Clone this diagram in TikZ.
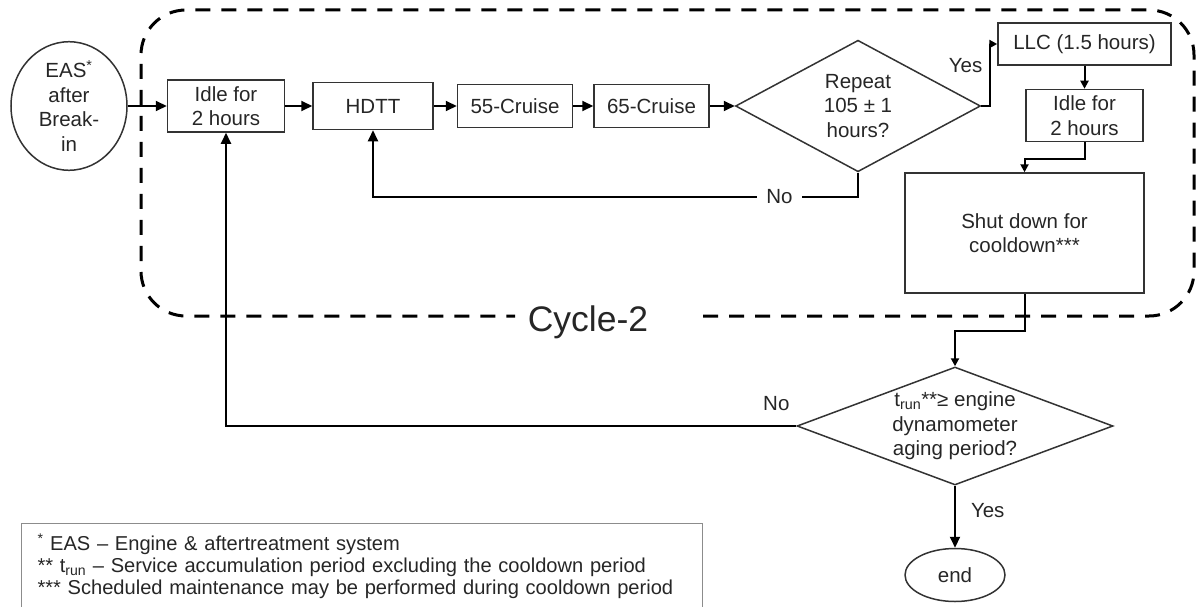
\documentclass[tikz,border=0pt]{standalone}
\usepackage{fontspec}
\setmainfont{Liberation Sans}
\usetikzlibrary{positioning, shapes.geometric, arrows.meta}

\begin{document}
\begin{tikzpicture}[x=1pt, y=-1pt, >={Triangle[length=11pt, width=10pt]},
    font=\fontsize{20.5}{24.5}\selectfont, text=black!85]

\tikzstyle{box} = [
    rectangle,
    draw=black!80,
    line width=1.5pt,
    inner sep=0pt,
    align=center
];
\tikzstyle{decision} = [diamond, draw=black!80, line width=1.5pt, inner sep=0pt, align=center];
\tikzstyle{terminal} = [ellipse, draw=black!80, line width=1.5pt, inner sep=0pt, align=center];
\tikzstyle{line} = [draw=black, line width=2pt];
\tikzstyle{arr} = [line, ->];
\tikzstyle{arrs} = [line, -{Triangle[length=8pt, width=8pt]}];
\tikzstyle{nolbl} = [fill=white, inner xsep=9pt, inner ysep=2pt];
\tikzstyle{lbl} = [inner sep=0pt];
\tikzstyle{boundary} = [draw=black, line width=3pt, dash pattern=on 15pt off 11pt, rounded corners=45pt];
\tikzstyle{notes} = [draw=black!45, line width=1pt, text width=649pt, inner xsep=16pt, inner ysep=10pt,
    align=left, font=\fontsize{20.1}{22}\selectfont];

\useasboundingbox (0,0) rectangle (1198,607);

% main row
\node[terminal, minimum width=116pt, minimum height=128pt] (eas) at (69,106) {EAS\textsuperscript{*}\\after\\Break-\\in};
\node[box, minimum width=117pt, minimum height=52pt, right=39pt of eas] (idle1) {Idle for\\2 hours};
\node[box, minimum width=120pt, minimum height=47pt, right=27pt of idle1] (hdtt) {HDTT};
\node[box, minimum width=115pt, minimum height=43pt, right=23pt of hdtt] (cr55) {55-Cruise};
\node[box, minimum width=115pt, minimum height=43pt, right=20pt of cr55] (cr65) {65-Cruise};
\node[decision, minimum width=245pt, minimum height=127pt, right=25pt of cr65] (rep) {Repeat\\105 ± 1\\hours?};

% right column
\node[box, minimum width=173pt, minimum height=42pt] (llc) at (1084.5,44) {LLC (1.5 hours)};
\node[box, minimum width=117pt, minimum height=52pt, below=23pt of llc] (idle2) {Idle for\\2 hours};
\node[box, minimum width=239pt, minimum height=120pt] (shut) at (1024.5,233) {Shut down for\\cooldown***};

% end check
\node[decision, shape aspect=2.68, minimum width=316pt, minimum height=118pt] (dec) at (955,426)
    {t\textsubscript{run}**≥ engine\\dynamometer\\aging period?};
\node[terminal, minimum width=100pt, minimum height=53pt, below=62pt of dec] (end) {end};

% cycle boundary
\node[lbl, anchor=base, font=\fontsize{35.5}{40}\selectfont] (cycle) at (588,331) {Cycle-2};
\draw[boundary] (703,316) -- (1194,316) -- (1194,10) -- (141,10) -- (141,316) -- (515,316);

\node[notes, anchor=north west] (legend) at (21,523)
    {\textsuperscript{*} EAS – Engine \& aftertreatment system\\
     {}** t\textsubscript{run} – Service accumulation period excluding the cooldown period\\
     {}*** Scheduled maintenance may be performed during cooldown period\rule[-24pt]{0pt}{0pt}};

\draw[arr] (eas) -- (idle1);
\draw[arr] (idle1) -- (hdtt);
\draw[arr] (hdtt) -- (cr55);
\draw[arr] (cr55) -- (cr65);
\draw[arr] (cr65) -- (rep);
\draw[arrs] (rep.east) -- ++(9,0) |- node[pos=0.33, left=7pt, lbl] {Yes} (llc.west);
\draw[arr] (rep.south) -- ++(0,24) -| node[pos=0.081, nolbl] {No} (hdtt.south);
\draw[arrs] (llc.south) -- (llc.south |- idle2.north);
\draw[arrs] (idle2.south) -- ++(0,17) -| (shut.north);
\draw[arrs] (shut.south) -- ++(0,37) -| (dec.north);
\draw[arr] (dec.south) -- node[pos=0.4, right=15pt, lbl] {Yes} (end);
\draw[arr] (dec.west) -| node[pos=0.0175, above=14pt, lbl] {No} (idle1.south);

\end{tikzpicture}
\end{document}
